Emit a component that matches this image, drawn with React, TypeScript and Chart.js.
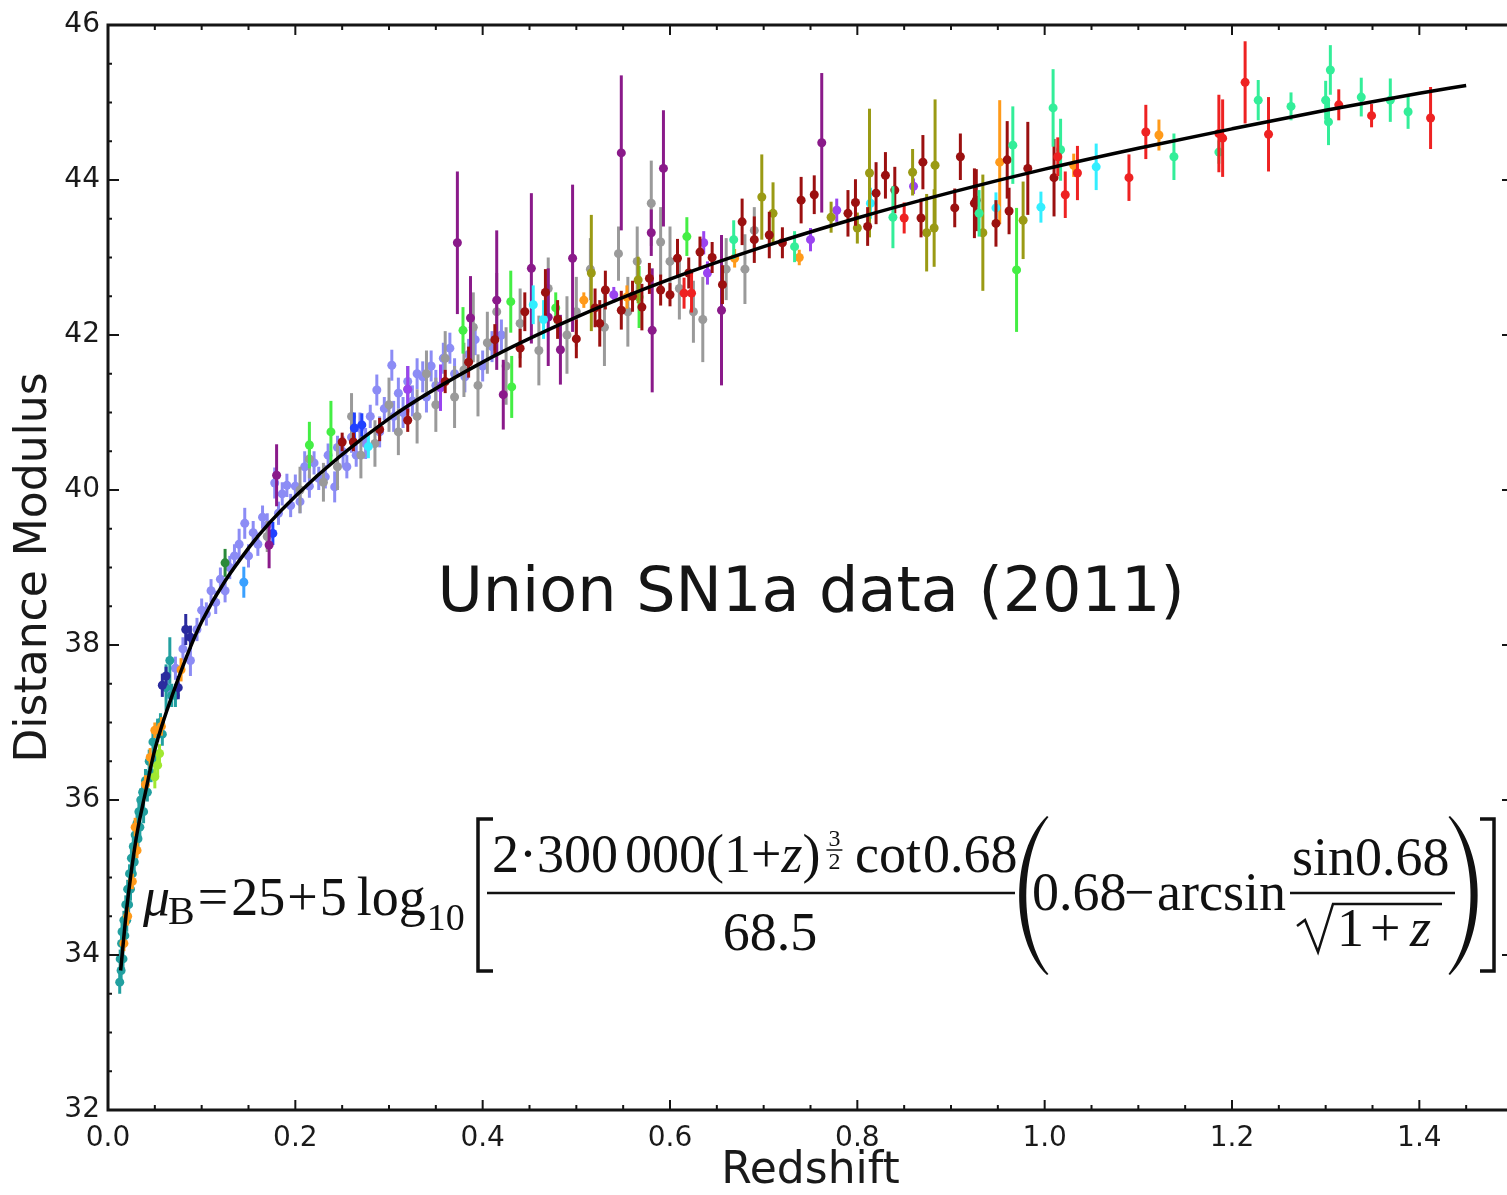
import { useEffect, useRef } from "react";
import { Chart, registerables } from "chart.js";
Chart.register(...registerables);

type P = [number, number, number];

const X_TICKS = [0, 0.2, 0.4, 0.6, 0.8, 1.0, 1.2, 1.4];
const Y_TICKS = [32, 34, 36, 38, 40, 42, 44, 46];

const curveZ = [0.0135, 0.02, 0.03, 0.04, 0.05, 0.07, 0.1, 0.15, 0.2, 0.3, 0.4, 0.5, 0.6, 0.7, 0.8, 0.9, 1.0, 1.1, 1.2, 1.3, 1.4, 1.45];
const curveMu = [33.8, 34.6, 35.5, 36.1, 36.65, 37.4, 38.3, 39.25, 39.92, 40.92, 41.65, 42.23, 42.72, 43.14, 43.51, 43.84, 44.14, 44.41, 44.66, 44.9, 45.12, 45.22];

const teal: P[] = [[0.0125,33.65,0.15],[0.013,33.95,0.12],[0.014,33.8,0.18],[0.0145,34.15,0.12],[0.015,34.3,0.15],[0.016,33.95,0.15],[0.017,34.45,0.12],[0.018,34.25,0.15],[0.019,34.65,0.12],[0.02,34.45,0.15],[0.021,34.85,0.12],[0.022,34.65,0.15],[0.023,35.05,0.12],[0.024,34.85,0.15],[0.025,35.25,0.12],[0.026,35.05,0.15],[0.027,35.4,0.15],[0.028,35.2,0.12],[0.029,35.55,0.12],[0.03,35.35,0.15],[0.031,35.7,0.15],[0.032,35.5,0.12],[0.033,35.85,0.12],[0.034,35.65,0.15],[0.035,36.0,0.15],[0.037,36.1,0.12],[0.038,35.85,0.15],[0.04,36.25,0.15],[0.042,36.1,0.12],[0.044,36.5,0.15],[0.046,36.35,0.12],[0.048,36.75,0.15],[0.05,36.55,0.12],[0.053,36.9,0.15],[0.056,37.0,0.12],[0.058,36.85,0.15],[0.062,37.45,0.3],[0.066,37.8,0.3],[0.068,37.35,0.15],[0.072,37.35,0.15]];
const orange: P[] = [[0.017,34.15,0.1],[0.021,34.5,0.12],[0.026,34.95,0.1],[0.029,35.65,0.12],[0.031,35.35,0.1],[0.04,36.2,0.12],[0.045,36.55,0.12],[0.05,36.9,0.1],[0.057,36.95,0.12],[0.078,37.68,0.15],[0.508,42.45,0.1],[0.554,42.49,0.15],[0.669,42.99,0.12],[0.738,43.0,0.1],[0.952,44.23,0.8],[1.031,44.19,0.15],[1.122,44.58,0.2]];
const yellowgreen: P[] = [[0.05,36.3,0.15],[0.053,36.45,0.15],[0.055,36.6,0.12]];
const navy: P[] = [[0.058,37.48,0.15],[0.062,37.6,0.12],[0.075,37.45,0.15],[0.083,38.2,0.2],[0.088,38.1,0.15]];
const blue: P[] = [[0.176,39.44,0.15],[0.263,40.8,0.2],[0.271,40.84,0.15]];
const dodger: P[] = [[0.145,38.81,0.2]];
const darkgreen: P[] = [[0.125,39.06,0.18]];
const periwinkle: P[] = [[0.065,37.45,0.15],[0.072,37.7,0.15],[0.08,37.95,0.15],[0.088,37.8,0.2],[0.095,38.2,0.15],[0.1,38.45,0.15],[0.105,38.4,0.15],[0.11,38.7,0.15],[0.115,38.55,0.15],[0.12,38.85,0.15],[0.125,38.7,0.15],[0.13,39.0,0.15],[0.135,39.15,0.15],[0.14,39.3,0.2],[0.146,39.57,0.2],[0.15,39.15,0.15],[0.155,39.45,0.15],[0.16,39.3,0.15],[0.165,39.65,0.15],[0.17,39.55,0.15],[0.178,40.09,0.2],[0.182,39.7,0.15],[0.186,39.95,0.15],[0.191,40.06,0.15],[0.195,39.8,0.15],[0.2,40.05,0.15],[0.205,39.85,0.15],[0.21,40.3,0.2],[0.215,40.05,0.15],[0.22,40.35,0.15],[0.225,40.15,0.15],[0.232,40.17,0.15],[0.235,40.45,0.15],[0.242,40.04,0.2],[0.245,40.55,0.15],[0.251,40.49,0.2],[0.255,40.3,0.15],[0.26,40.68,0.2],[0.265,40.45,0.15],[0.269,40.8,0.2],[0.275,40.6,0.2],[0.28,40.95,0.15],[0.287,41.29,0.2],[0.29,40.75,0.2],[0.295,41.05,0.15],[0.303,41.61,0.2],[0.305,40.95,0.2],[0.31,41.25,0.2],[0.315,41.0,0.2],[0.32,41.4,0.2],[0.325,41.15,0.2],[0.33,41.5,0.2],[0.336,41.46,0.2],[0.34,41.2,0.2],[0.345,41.6,0.2],[0.35,41.35,0.2],[0.358,41.7,0.2],[0.365,41.83,0.2],[0.37,41.5,0.2],[0.381,41.46,0.2],[0.385,41.75,0.2],[0.392,41.94,0.2],[0.4,41.6,0.2],[0.41,41.85,0.2],[0.42,42.0,0.2]];
const gray: P[] = [[0.17,39.4,0.2],[0.205,40.0,0.3],[0.215,40.4,0.25],[0.23,40.1,0.25],[0.245,40.3,0.3],[0.26,40.95,0.3],[0.27,40.45,0.3],[0.285,40.6,0.3],[0.3,41.1,0.35],[0.31,40.75,0.3],[0.32,41.3,0.3],[0.33,40.95,0.35],[0.34,41.5,0.3],[0.35,41.1,0.35],[0.36,41.7,0.35],[0.37,41.2,0.4],[0.38,41.55,0.35],[0.39,42.1,0.45],[0.395,41.35,0.4],[0.405,41.9,0.4],[0.415,42.3,0.5],[0.425,41.6,0.5],[0.44,42.15,0.45],[0.46,41.8,0.45],[0.47,42.6,0.4],[0.49,42.0,0.5],[0.5,42.3,0.45],[0.515,42.85,0.4],[0.53,42.1,0.5],[0.545,43.05,0.35],[0.555,42.3,0.45],[0.565,42.95,0.45],[0.58,43.7,0.55],[0.59,43.2,0.45],[0.6,42.95,0.45],[0.61,42.6,0.4],[0.625,42.3,0.4],[0.635,42.2,0.55],[0.66,42.85,0.4],[0.68,42.85,0.45],[0.69,43.35,0.3]];
const darkred: P[] = [[0.25,40.62,0.12],[0.262,40.62,0.12],[0.29,40.78,0.15],[0.32,40.9,0.15],[0.36,41.4,0.15],[0.385,41.65,0.2],[0.413,41.94,0.2],[0.44,41.83,0.25],[0.445,42.3,0.25],[0.467,42.55,0.3],[0.48,42.2,0.25],[0.5,41.95,0.25],[0.52,42.35,0.25],[0.531,42.58,0.25],[0.525,42.15,0.3],[0.548,42.32,0.25],[0.56,42.5,0.2],[0.57,42.36,0.3],[0.578,42.73,0.2],[0.59,42.58,0.2],[0.6,42.52,0.15],[0.608,42.99,0.25],[0.62,42.8,0.2],[0.632,43.07,0.2],[0.645,43.0,0.2],[0.656,42.65,0.25],[0.677,43.46,0.3],[0.69,43.23,0.3],[0.706,43.29,0.3],[0.72,43.19,0.2],[0.74,43.74,0.3],[0.754,43.81,0.25],[0.79,43.57,0.3],[0.798,43.71,0.3],[0.811,43.4,0.25],[0.82,43.83,0.4],[0.83,44.06,0.3],[0.84,43.87,0.3],[0.87,44.23,0.35],[0.868,43.51,0.25],[0.904,43.64,0.25],[0.91,44.3,0.3],[0.927,43.74,0.4],[0.925,43.7,0.45],[0.948,43.44,0.3],[0.96,44.26,0.5],[0.962,43.6,0.3],[0.982,44.15,0.6],[1.01,44.03,0.5]];
const purple: P[] = [[0.172,39.29,0.3],[0.18,40.19,0.4],[0.373,43.19,0.92],[0.387,42.22,0.54],[0.415,42.45,0.9],[0.422,41.23,0.45],[0.452,42.86,0.97],[0.47,42.23,0.63],[0.483,41.81,0.45],[0.496,42.99,0.95],[0.548,44.35,1.0],[0.58,43.32,0.3],[0.581,42.06,0.8],[0.593,44.15,0.75],[0.655,42.32,0.97],[0.762,44.48,0.9]];
const green: P[] = [[0.215,40.58,0.3],[0.238,40.75,0.4],[0.379,42.06,0.3],[0.43,42.43,0.4],[0.431,41.33,0.4],[0.478,42.35,0.2],[0.567,42.49,0.4],[0.618,43.27,0.25],[0.97,42.84,0.8]];
const springgreen: P[] = [[0.668,43.23,0.25],[0.733,43.14,0.2],[0.838,43.52,0.4],[0.93,43.57,0.3],[0.966,44.45,0.5],[1.009,44.93,0.5],[1.017,44.39,0.4],[1.138,44.3,0.3],[1.186,44.36,0.15],[1.228,45.03,0.26],[1.263,44.95,0.18],[1.305,45.42,0.32],[1.303,44.75,0.3],[1.3,45.03,0.25],[1.338,45.07,0.25],[1.369,45.03,0.28],[1.388,44.88,0.22]];
const cyan: P[] = [[0.278,40.56,0.15],[0.454,42.39,0.25],[0.465,42.2,0.25],[0.814,43.7,0.2],[0.948,43.64,0.2],[0.996,43.65,0.2],[1.055,44.17,0.3]];
const olive: P[] = [[0.516,42.8,0.75],[0.566,42.71,0.3],[0.698,43.78,0.55],[0.71,43.57,0.4],[0.772,43.52,0.2],[0.8,43.38,0.2],[0.813,44.09,0.83],[0.859,44.1,0.3],[0.874,43.32,0.5],[0.883,44.19,0.85],[0.882,43.38,0.5],[0.934,43.32,0.75],[0.977,43.48,0.5]];
const red: P[] = [[0.615,42.54,0.2],[0.623,42.54,0.25],[0.85,43.51,0.2],[1.014,44.3,0.25],[1.022,43.81,0.3],[1.035,44.09,0.35],[1.09,44.03,0.3],[1.108,44.62,0.35],[1.186,44.6,0.5],[1.19,44.54,0.5],[1.214,45.26,0.53],[1.239,44.59,0.48],[1.314,44.97,0.2],[1.349,44.83,0.15],[1.412,44.8,0.4]];
const violet: P[] = [[0.32,41.3,0.3],[0.355,41.32,0.3],[0.54,42.52,0.1],[0.636,43.19,0.15],[0.64,42.8,0.15],[0.75,43.23,0.15],[0.778,43.61,0.15],[0.86,43.92,0.1]];

// drawing order: first listed is drawn on top
const SERIES: [P[], string][] = [
  [red, "#ee2222"], [springgreen, "#33ee99"], [darkred, "#9b1010"], [olive, "#9a9a14"],
  [cyan, "#33eeff"], [green, "#44ee44"], [violet, "#9a44f0"], [purple, "#8a1a8a"],
  [orange, "#ff9a1a"], [yellowgreen, "#a0e830"], [navy, "#2b2b9e"], [blue, "#2040ff"],
  [dodger, "#3aa0ff"], [darkgreen, "#2a8a3a"], [teal, "#22a0a0"], [gray, "#9a9a9a"],
  [periwinkle, "#8c8cf5"],
];

export default function App() {
  const ref = useRef<HTMLCanvasElement>(null);
  useEffect(() => {
    document.body.style.margin = "0";
    const canvas = ref.current as HTMLCanvasElement;

    const errorBars = {
      id: "errorBars",
      beforeDatasetDraw(chart: any, args: any) {
        const ds: any = chart.data.datasets[args.index];
        if (!ds.errs) return;
        const ctx = chart.ctx;
        const ys = chart.scales.y;
        const ca = chart.chartArea;
        ctx.save();
        ctx.beginPath();
        ctx.rect(ca.left, ca.top, ca.right - ca.left, ca.bottom - ca.top);
        ctx.clip();
        ctx.strokeStyle = ds.backgroundColor;
        ctx.lineWidth = 3;
        args.meta.data.forEach((el: any, i: number) => {
          const d = ds.data[i];
          const e = ds.errs[i];
          ctx.beginPath();
          ctx.moveTo(el.x, ys.getPixelForValue(d.y - e));
          ctx.lineTo(el.x, ys.getPixelForValue(d.y + e));
          ctx.stroke();
        });
        ctx.restore();
      },
    };

    const serif = '"Liberation Serif", "Times New Roman", serif';
    const txt = (ctx: any, s: string, x: number, y: number, size: number, italic = false) => {
      ctx.font = `${italic ? "italic " : ""}${size}px ${serif}`;
      ctx.fillText(s, x, y);
      return x + ctx.measureText(s).width;
    };
    const paren = (ctx: any, xe: number, yt: number, yb: number, dir: number) => {
      const h = yb - yt;
      const b = 37;
      ctx.beginPath();
      ctx.moveTo(xe, yt);
      ctx.bezierCurveTo(xe - dir * b, yt + h * 0.22, xe - dir * b, yb - h * 0.22, xe, yb);
      ctx.lineTo(xe + dir * 1.5, yb - 1);
      ctx.bezierCurveTo(xe - dir * (b - 9), yb - h * 0.24, xe - dir * (b - 9), yt + h * 0.24, xe + dir * 1.5, yt + 1);
      ctx.closePath();
      ctx.fill();
    };

    const decor = {
      id: "decor",
      afterDraw(chart: any) {
        const ctx = chart.ctx;
        const ca = chart.chartArea;
        const xs = chart.scales.x;
        const ys = chart.scales.y;
        ctx.save();
        // frame
        ctx.strokeStyle = "#151515";
        ctx.lineWidth = 3;
        ctx.strokeRect(ca.left, ca.top, ca.right - ca.left, ca.bottom - ca.top);
        // ticks
        ctx.lineWidth = 2;
        for (let i = 0; i <= 30; i++) {
          const v = i * 0.05;
          const px = xs.getPixelForValue(v);
          const major = i % 4 === 0;
          const len = major ? 10 : 5;
          ctx.beginPath();
          ctx.moveTo(px, ca.bottom); ctx.lineTo(px, ca.bottom - len);
          ctx.moveTo(px, ca.top); ctx.lineTo(px, ca.top + len);
          ctx.stroke();
        }
        for (let i = 0; i <= 28; i++) {
          const v = 32 + i * 0.5;
          const py = ys.getPixelForValue(v);
          const major = i % 4 === 0;
          const len = major ? 11 : 4;
          ctx.beginPath();
          ctx.moveTo(ca.left, py); ctx.lineTo(ca.left + len, py);
          ctx.moveTo(ca.right, py); ctx.lineTo(ca.right - len, py);
          ctx.stroke();
        }
        // axis titles
        ctx.fillStyle = "#1a1a1a";
        ctx.font = '44px "DejaVu Sans"';
        ctx.textAlign = "center";
        ctx.textBaseline = "middle";
        ctx.fillText("Redshift", (ca.left + ca.right) / 2, 1172);
        ctx.save();
        ctx.translate(35, (ca.top + ca.bottom) / 2);
        ctx.rotate(-Math.PI / 2);
        ctx.fillText("Distance Modulus", 0, 0);
        ctx.restore();
        // title
        ctx.textBaseline = "alphabetic";
        ctx.font = '62px "DejaVu Sans"';
        ctx.fillStyle = "#151515";
        ctx.fillText("Union SN1a data (2011)", 811, 611);

        // formula
        ctx.textAlign = "left";
        ctx.fillStyle = "#111";
        ctx.strokeStyle = "#111";
        let x = 143;
        x = txt(ctx, "\u03bc", x, 915, 54, true);
        x = txt(ctx, "B", x - 2, 924, 40);
        x = txt(ctx, "=", x + 3, 915, 54);
        x = txt(ctx, "25", x + 3, 915, 54);
        x = txt(ctx, "+", x + 2, 915, 54);
        x = txt(ctx, "5", x + 2, 915, 54);
        x = txt(ctx, "log", x + 10, 915, 54);
        txt(ctx, "10", x + 1, 930, 38);
        // [
        ctx.lineWidth = 3.5;
        ctx.beginPath();
        ctx.moveTo(493, 819); ctx.lineTo(478, 819); ctx.lineTo(478, 971); ctx.lineTo(493, 971);
        ctx.stroke();
        // numerator 1
        x = 492;
        x = txt(ctx, "2\u00b7300", x, 872, 54);
        x = txt(ctx, "000(1+", x + 7, 872, 54);
        x = txt(ctx, "z", x, 872, 54, true);
        x = txt(ctx, ")", x, 872, 54);
        ctx.textAlign = "center";
        txt(ctx, "3", x + 14, 846, 24);
        txt(ctx, "2", x + 14, 869, 24);
        ctx.lineWidth = 1.5;
        ctx.beginPath(); ctx.moveTo(x + 6, 850); ctx.lineTo(x + 22, 850); ctx.stroke();
        ctx.textAlign = "left";
        x = txt(ctx, "cot", 855, 872, 54);
        txt(ctx, "0.68", x + 2, 872, 54);
        ctx.lineWidth = 2.5;
        ctx.beginPath(); ctx.moveTo(487, 893); ctx.lineTo(1015, 893); ctx.stroke();
        ctx.textAlign = "center";
        txt(ctx, "68.5", 770, 950, 54);
        ctx.textAlign = "left";
        // (
        paren(ctx, 1047, 816, 975, 1);
        txt(ctx, "0.68", 1032, 910, 54);
        txt(ctx, "\u2212", 1124, 910, 54);
        txt(ctx, "arcsin", 1157, 910, 54);
        txt(ctx, "sin0.68", 1292, 875, 54);
        ctx.lineWidth = 2.5;
        ctx.beginPath(); ctx.moveTo(1290, 893); ctx.lineTo(1455, 893); ctx.stroke();
        // radical
        ctx.lineWidth = 2.5;
        ctx.beginPath();
        ctx.moveTo(1297, 926); ctx.lineTo(1305, 920); ctx.lineTo(1318, 952); ctx.lineTo(1333, 904); ctx.lineTo(1442, 904);
        ctx.stroke();
        txt(ctx, "1", 1337, 946, 54);
        txt(ctx, "+", 1370, 946, 54);
        txt(ctx, "z", 1410, 946, 54, true);
        // )
        paren(ctx, 1450, 816, 975, -1);
        // ]
        ctx.lineWidth = 3.5;
        ctx.beginPath();
        ctx.moveTo(1480, 819); ctx.lineTo(1494, 819); ctx.lineTo(1494, 971); ctx.lineTo(1480, 971);
        ctx.stroke();
        ctx.restore();
      },
    };

    const datasets: any[] = [
      {
        label: "model",
        data: curveZ.map((z, i) => ({ x: z, y: curveMu[i] })),
        showLine: true,
        borderColor: "#000",
        borderWidth: 3.5,
        pointRadius: 0,
        cubicInterpolationMode: "monotone",
        fill: false,
      },
      ...SERIES.map(([pts, color]) => ({
        data: pts.map((p) => ({ x: p[0], y: p[1] })),
        errs: pts.map((p) => p[2]),
        backgroundColor: color,
        borderColor: color,
        borderWidth: 0,
        pointRadius: 4.5,
        showLine: false,
      })),
    ];

    const tickFont = { family: "DejaVu Sans", size: 28 };
    const chart = new Chart(canvas, {
      type: "scatter",
      data: { datasets },
      options: {
        responsive: false,
        animation: false,
        devicePixelRatio: 1,
        events: [],
        layout: { padding: { top: 25, right: 12, left: 0, bottom: 0 } },
        plugins: { legend: { display: false }, tooltip: { enabled: false } },
        scales: {
          x: {
            type: "linear",
            min: 0,
            max: 1.5,
            grid: { display: false, drawTicks: false },
            border: { display: false },
            afterBuildTicks: (s: any) => { s.ticks = X_TICKS.map((v) => ({ value: v })); },
            afterFit: (s: any) => { s.height = 85; },
            ticks: {
              font: tickFont,
              color: "#1a1a1a",
              padding: 12,
              maxRotation: 0,
              autoSkip: false,
              callback: (v: any) => Number(v).toFixed(1),
            },
          },
          y: {
            type: "linear",
            min: 32,
            max: 46,
            grid: { display: false, drawTicks: false },
            border: { display: false },
            afterBuildTicks: (s: any) => { s.ticks = Y_TICKS.map((v) => ({ value: v })); },
            afterFit: (s: any) => { s.width = 108; },
            ticks: {
              font: tickFont,
              color: "#1a1a1a",
              padding: 8,
              autoSkip: false,
              callback: (v: any) => String(v),
            },
          },
        },
      } as any,
      plugins: [errorBars, decor],
    });
    return () => chart.destroy();
  }, []);

  return (
    <div style={{ width: 1507, height: 1195, overflow: "hidden", position: "relative", background: "#fff" }}>
      <canvas ref={ref} width={1525} height={1195} style={{ display: "block", width: 1525, height: 1195 }} />
    </div>
  );
}
